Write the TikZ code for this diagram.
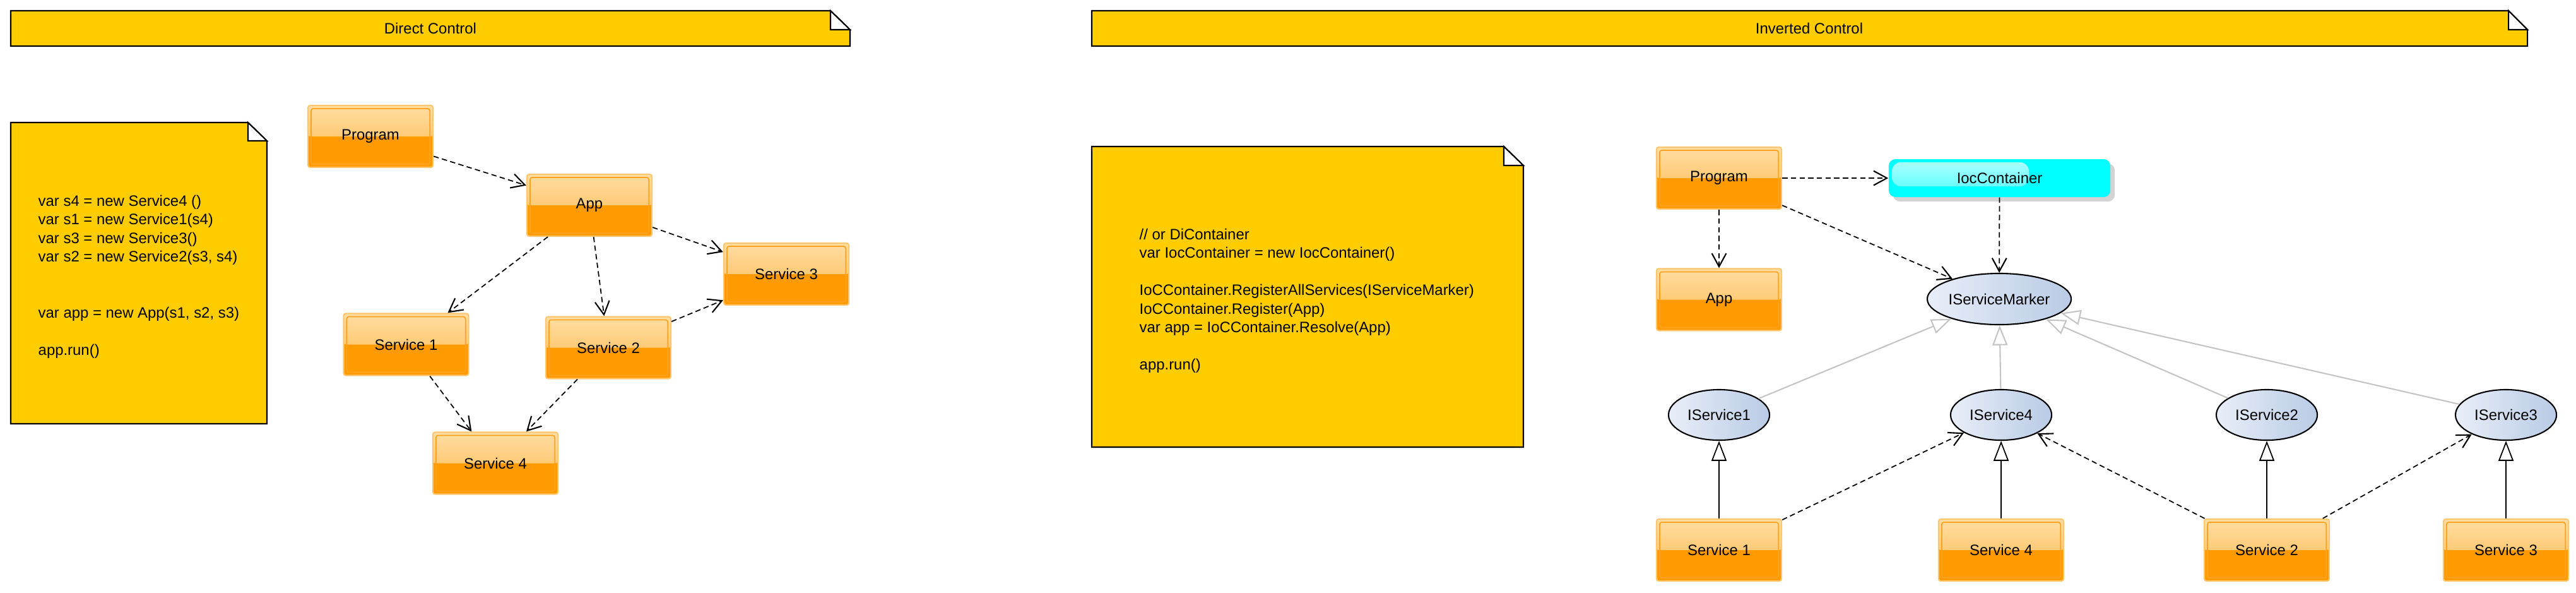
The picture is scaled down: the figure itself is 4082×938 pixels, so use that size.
\documentclass[tikz,border=0pt]{standalone}
\usepackage{fontspec}
\setmainfont{Liberation Sans}
\usetikzlibrary{arrows.meta,shapes.geometric,shadows}

\definecolor{notegold}{HTML}{FFCC00}
\definecolor{boxtop}{HTML}{FFDDA2}
\definecolor{boxmid}{HTML}{FDB84C}
\definecolor{boxlow}{HTML}{FF9A00}
\definecolor{boxrim}{HTML}{FFC670}
\definecolor{boxinner}{HTML}{FFA21F}
\definecolor{ifaceleft}{HTML}{E8EEF8}
\definecolor{ifaceright}{HTML}{B9CBE5}
\definecolor{realgray}{HTML}{C4C4C4}
\definecolor{iocblue}{HTML}{00FFFF}

\begin{document}
\begin{tikzpicture}[x=0.01cm, y=-0.01cm, font=\fontsize{6.8}{8.4}\selectfont]%
\tikzstyle{classbox} = [rectangle, minimum width=1.98cm, minimum height=0.98cm,
    inner sep=0pt, draw=boxrim, line width=0.6pt, rounded corners=1pt, fill=boxlow,
    path picture={
      \shade[top color=boxtop, bottom color=boxmid]
        (path picture bounding box.north west) rectangle (path picture bounding box.east);
      \draw[boxinner, line width=0.5pt]
        ([shift={(1.4pt,-1.4pt)}]path picture bounding box.north west) rectangle
        ([shift={(-1.4pt,1.4pt)}]path picture bounding box.south east);
    }]
\tikzstyle{iface} = [ellipse, minimum width=1.6cm, minimum height=0.8cm, inner sep=0pt,
    draw=black, line width=0.6pt, left color=ifaceleft, right color=ifaceright]
\tikzstyle{container} = [rectangle, rounded corners=3pt, minimum width=3.51cm,
    minimum height=0.6cm, fill=iocblue,
    drop shadow={shadow xshift=2pt, shadow yshift=-2pt, opacity=.35},
    path picture={
      \shade[top color=white!70!iocblue, bottom color=white!30!iocblue, rounded corners=4pt]
        ([shift={(0.05cm,-0.05cm)}]path picture bounding box.north west) rectangle
        ([shift={(2.22cm,-0.43cm)}]path picture bounding box.north west);
    }]
\tikzstyle{note} = [draw=black, line width=0.6pt, fill=notegold]
\tikzstyle{uses} = [draw=black, line width=0.5pt, dash pattern=on 2.4pt off 1.5pt,
    -{Straight Barb[length=6pt, width=6.5pt, line width=0.6pt]}]
\tikzstyle{realizes} = [draw=black, line width=0.5pt,
    -{Triangle[length=9pt, width=6.8pt, fill=white]}]
\tikzstyle{markgray} = [draw=realgray, line width=0.6pt,
    -{Triangle[length=9pt, width=6.8pt, fill=white]}]

\useasboundingbox (0,0) rectangle (4082,938);

% direct control
\draw[note] (17,17) -- (1316,17) -- (1347,47) -- (1347,73) -- (17,73) -- cycle;
\draw[note, fill=white] (1316,17) -- (1347,47) -- (1316,47) -- cycle;
\node (directtitle) at (682,45) {Direct Control};

\draw[note] (17,194) -- (393,194) -- (423,223) -- (423,671) -- (17,671) -- cycle;
\draw[note, fill=white] (393,194) -- (423,223) -- (393,223) -- cycle;
\node[anchor=north west, inner sep=0pt, align=left] (directcode) at (60,308) {%
    var s4 = new Service4 ()\\
    var s1 = new Service1(s4)\\
    var s3 = new Service3()\\
    var s2 = new Service2(s3, s4)\\[16.8pt]
    var app = new App(s1, s2, s3)\\[8.4pt]
    app.run()};

\node[classbox] (program) at (587,216) {Program};
\node[classbox] (app) at (934,325) {App};
\node[classbox] (svcthree) at (1246,434) {Service 3};
\node[classbox] (svcone) at (643.5,545.5) {Service 1};
\node[classbox] (svctwo) at (964,550.5) {Service 2};
\node[classbox] (svcfour) at (785,733.5) {Service 4};

\draw[uses] (program) -- (app);
\draw[uses] (app) -- (svcthree);
\draw[uses] (app) -- (svcone);
\draw[uses] (app) -- (svctwo);
\draw[uses] (svctwo) -- (svcthree);
\draw[uses] (svcone) -- (svcfour);
\draw[uses] (svctwo) -- (svcfour);

% inverted control
\draw[note] (1730,17) -- (3975,17) -- (4005,47) -- (4005,73) -- (1730,73) -- cycle;
\draw[note, fill=white] (3975,17) -- (4005,47) -- (3975,47) -- cycle;
\node (invertedtitle) at (2867,45) {Inverted Control};

\draw[note] (1730,232) -- (2383,232) -- (2414,262) -- (2414,708) -- (1730,708) -- cycle;
\draw[note, fill=white] (2383,232) -- (2414,262) -- (2383,262) -- cycle;
\node[anchor=north west, inner sep=0pt, align=left] (invertedcode) at (1805,361) {%
    // or DiContainer\\
    var IocContainer = new IocContainer()\\[8.4pt]
    IoCContainer.RegisterAllServices(IServiceMarker)\\
    IoCContainer.Register(App)\\
    var app = IoCContainer.Resolve(App)\\[8.4pt]
    app.run()};

\node[classbox] (iocprogram) at (2724,282) {Program};
\node[classbox] (iocapp) at (2724,474.5) {App};
\node[container] (container) at (3168.5,282) {IocContainer};
\node[iface, minimum width=2.28cm, minimum height=0.81cm] (marker) at (3168,473.5) {IServiceMarker};

\node[iface] (ione) at (2724,657) {IService1};
\node[iface] (ifour) at (3171,657) {IService4};
\node[iface] (itwo) at (3592,657) {IService2};
\node[iface] (ithree) at (3971,657) {IService3};

\node[classbox] (implone) at (2724,871) {Service 1};
\node[classbox] (implfour) at (3171,871) {Service 4};
\node[classbox] (impltwo) at (3592,871) {Service 2};
\node[classbox] (implthree) at (3971,871) {Service 3};

\draw[uses] (iocprogram) -- (container);
\draw[uses] (iocprogram) -- (iocapp);
\draw[uses] (iocprogram) -- (marker);
\draw[uses] (container) -- (marker);
\foreach \n in {one,four,two,three} {
  \draw[markgray] (i\n) -- (marker);
  \draw[realizes] (impl\n) -- (i\n);
}
\draw[uses] (implone) -- (ifour);
\draw[uses] (impltwo) -- (ifour);
\draw[uses] (impltwo) -- (ithree);
\end{tikzpicture}
\end{document}
